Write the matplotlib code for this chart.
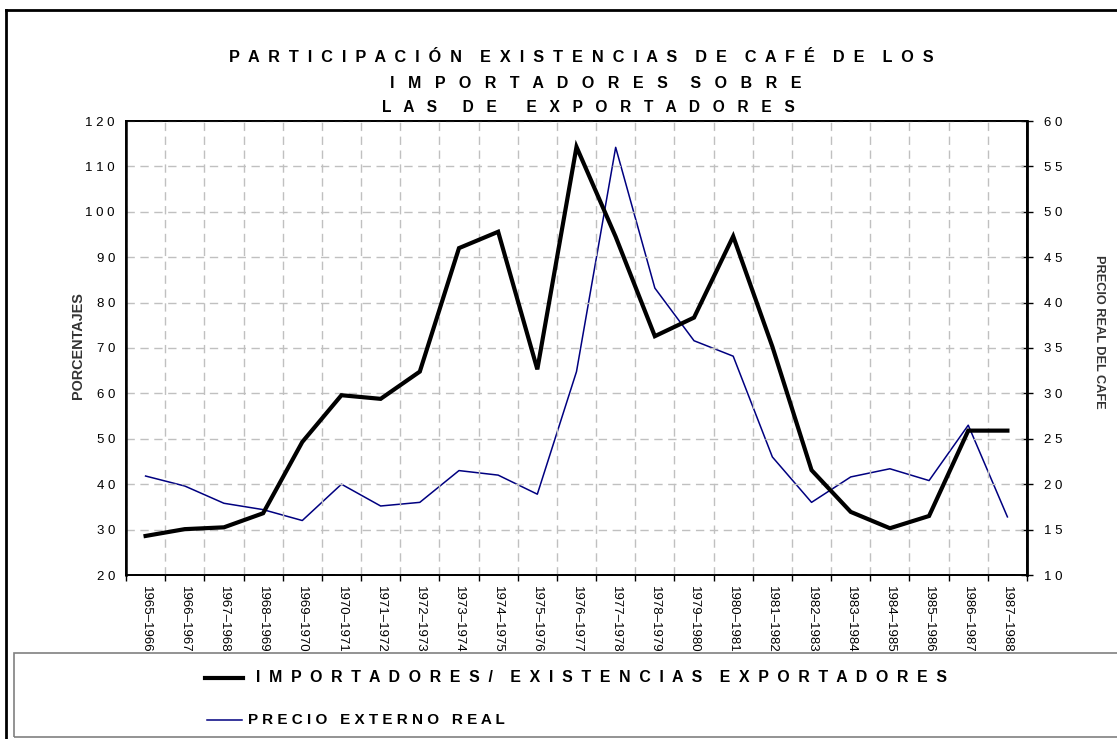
import matplotlib
matplotlib.use("Agg")
import matplotlib.pyplot as plt
from matplotlib.lines import Line2D
from matplotlib.patches import Rectangle
import numpy as np

plt.rcParams['font.family'] = ['Liberation Sans', 'DejaVu Sans']

# data
periods = ['1965-1966', '1966-1967', '1967-1968', '1968-1969', '1969-1970', '1970-1971',
           '1971-1972', '1972-1973', '1973-1974', '1974-1975', '1975-1976', '1976-1977',
           '1977-1978', '1978-1979', '1979-1980', '1980-1981', '1981-1982', '1982-1983',
           '1983-1984', '1984-1985', '1985-1986', '1986-1987', '1987-1988']
participacion = [28.6, 30.1, 30.5, 33.6, 49.3, 59.6, 58.8, 64.8, 92.0, 95.6, 65.3, 114.3,
                 94.5, 72.6, 76.7, 94.6, 70.3, 43.1, 33.9, 30.3, 33.0, 51.8, 51.8]
precio = [20.9, 19.8, 17.9, 17.2, 16.0, 20.0, 17.6, 18.0, 21.5, 21.0, 18.9, 32.4,
          57.1, 41.6, 35.8, 34.1, 23.0, 18.0, 20.8, 21.7, 20.4, 26.5, 16.4]
left_ticks = list(range(20, 121, 10))
right_ticks = list(range(10, 61, 5))

W, H = 1117, 739
narrow = ['Liberation Sans Narrow', 'Liberation Sans']


def spaced(s, gap='  ', wgap='    '):
    return wgap.join(gap.join(w) for w in s.split(' '))


fig = plt.figure(figsize=(W / 100, H / 100), dpi=100)
ax = fig.add_axes([126 / W, 1 - 575 / H, 901 / W, (575 - 121) / H])
ax2 = ax.twinx()

x = np.arange(len(periods))
ax.plot(x, participacion, color='black', lw=3.0, solid_joinstyle='miter', zorder=5)
ax2.plot(x, precio, color='#000080', lw=1.1, zorder=4)

ax.set_zorder(ax2.get_zorder() + 1)
ax.patch.set_visible(False)

ax.set_xlim(-0.5, len(periods) - 0.5)
ax.set_ylim(20, 120)
ax2.set_ylim(10, 60)

ax.set_xticks(x)
ax.set_xticklabels([p.replace('-', '\u2013') for p in periods], rotation=270,
                   family=narrow, fontsize=9.5)
ax.set_xticks(np.arange(-0.5, len(periods), 1.0), minor=True)
ax.tick_params(axis='x', which='major', length=0, pad=8)
ax.tick_params(axis='x', which='minor', length=4, width=1, direction='out', color='black')

ax.set_yticks(left_ticks)
ax.set_yticklabels([' '.join(str(v)) for v in left_ticks], fontsize=9.5)
ax.tick_params(axis='y', length=0, pad=8)
ax2.set_yticks(right_ticks)
ax2.set_yticklabels([' '.join(str(v)) for v in right_ticks], fontsize=9.5)
ax2.tick_params(axis='y', direction='inout', length=9, width=1, pad=8)

ax.grid(True, axis='y', which='major', color='#c0c0c0', lw=1, dashes=(6, 4))
ax.grid(True, axis='x', which='minor', color='#c0c0c0', lw=1, dashes=(6, 4))

for a in (ax, ax2):
    for side, sp in a.spines.items():
        sp.set_color('black')
        sp.set_linewidth(1.3)
ax2.spines['right'].set_linewidth(2)
ax.spines['left'].set_linewidth(1.8)

# axis titles
fig.text(78 / W, 1 - 346 / H, 'PORCENTAJES', rotation=90, ha='center', va='center',
         fontsize=10.4, fontweight='bold', color='#333333', family=narrow)
fig.text(1099 / W, 1 - 332 / H, 'PRECIO REAL DEL CAFE', rotation=270, ha='center',
         va='center', fontsize=9.2, fontweight='bold', color='#333333', family=narrow)

# title
title_lines = [(spaced('PARTICIPACIÓN EXISTENCIAS DE CAFÉ DE LOS', '  ', '    '), 229, 57, 11.7),
               (spaced('IMPORTADORES SOBRE', '   ', '     '), 390, 83, 11.5),
               ('L   A   S      D   E       E   X   P   O   R   T   A   D   O   R   E   S',
                382, 108, 11.2)]
for txt, xl, yc, fs in title_lines:
    fig.text(xl / W, 1 - yc / H, txt, ha='left', va='center', fontsize=fs, fontweight='bold')

# outer frame and legend box
fig.add_artist(Line2D([6 / W, 6 / W], [1 - 10 / H, 0], color='black', lw=2))
fig.add_artist(Line2D([6 / W, 1], [1 - 10 / H, 1 - 10 / H], color='black', lw=2))
fig.add_artist(Rectangle((14 / W, 1 - 737 / H), 1.2, (737 - 653) / H, fill=False,
                         edgecolor='#808080', lw=1.2, transform=fig.transFigure))

# legend
fig.add_artist(Line2D([205 / W, 243 / W], [1 - 678 / H] * 2, color='black', lw=3.0))
fig.text(256 / W, 1 - 678 / H, spaced('IMPORTADORES/ EXISTENCIAS EXPORTADORES'),
         ha='left', va='center', fontsize=11.4, fontweight='bold')
fig.add_artist(Line2D([207 / W, 242 / W], [1 - 720 / H] * 2, color='#000080', lw=1.1))
fig.text(248 / W, 1 - 720 / H, spaced('PRECIO EXTERNO REAL', ' ', '   '),
         ha='left', va='center', fontsize=11, fontweight='bold')

fig.savefig('out.png', dpi=100)
